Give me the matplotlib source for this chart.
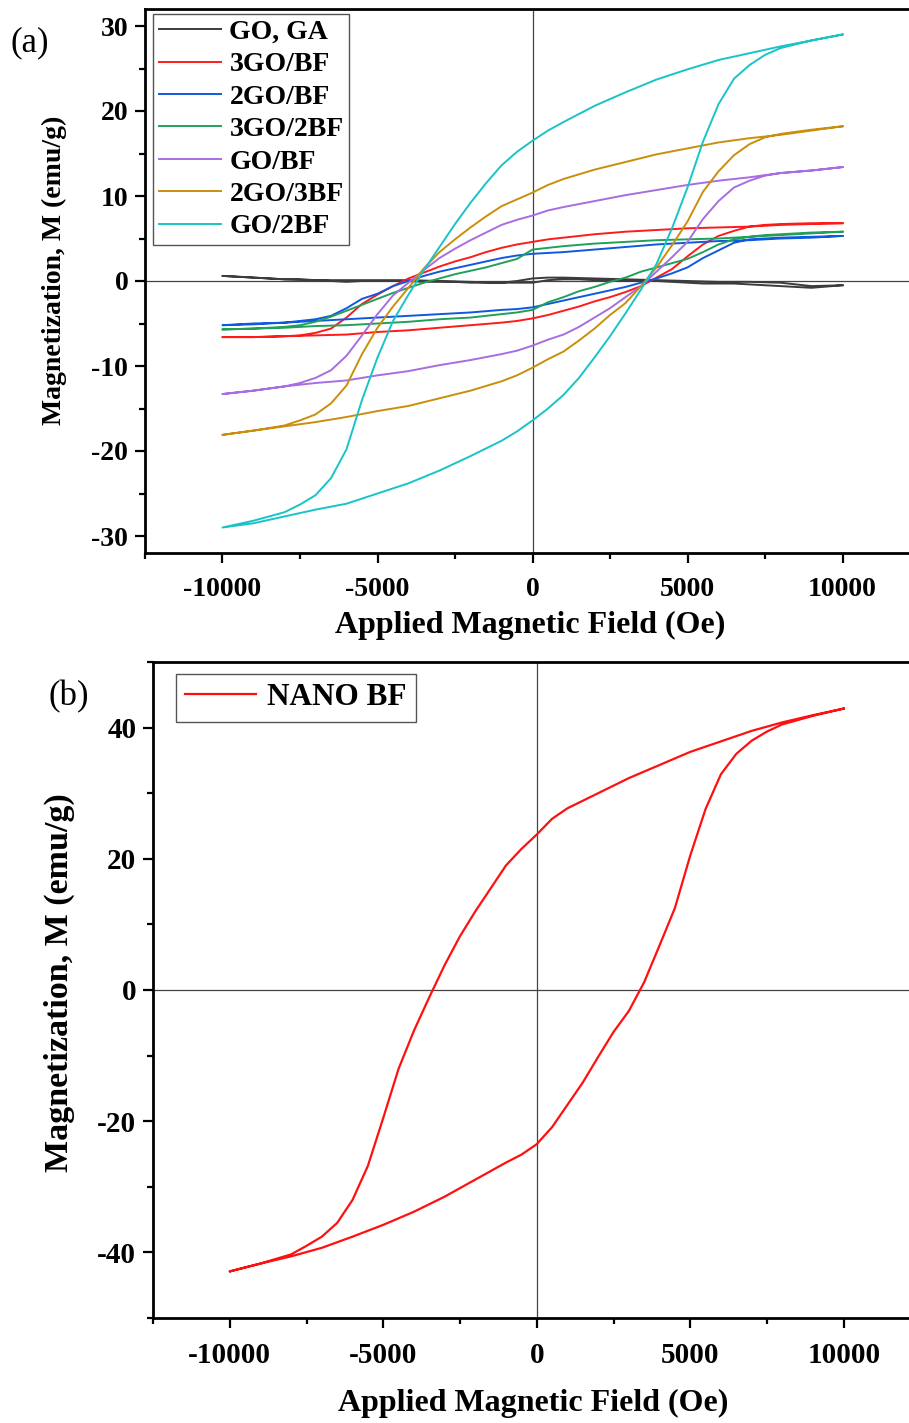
import matplotlib
matplotlib.use('Agg')

import matplotlib.pyplot as plt
from matplotlib.ticker import MultipleLocator

# field sweep for the descending branch (+10 kOe -> -10 kOe), Oe
H_DOWN = [10000, 9000, 8000, 7000, 6000, 5000, 4000, 3000, 2000, 1000, 500, 0,
          -500, -1000, -1500, -2000, -2500, -3000, -3500, -4000, -4500, -5000,
          -5500, -6000, -6500, -7000, -7500, -8000, -9000, -10000]
# field sweep for the ascending branch (-10 kOe -> +10 kOe), Oe
H_UP = [-10000, -9000, -8000, -7000, -6000, -5000, -4000, -3000, -2000, -1000, -500, 0,
        500, 1000, 1500, 2000, 2500, 3000, 3500, 4000, 4500, 5000,
        5500, 6000, 6500, 7000, 7500, 8000, 9000, 10000]

# panel (a) magnetization, emu/g
GOGA_DOWN = [-0.5, -0.6, -0.2, -0.1, -0.1, 0.0, 0.1, 0.2, 0.3, 0.4, 0.4, 0.3,
             0.0, -0.2, -0.2, -0.2, -0.1, -0.1, -0.1, 0.0, 0.0, 0.0,
             0.0, -0.1, 0.0, 0.1, 0.2, 0.2, 0.4, 0.6]
GOGA_UP = [0.6, 0.4, 0.2, 0.1, 0.1, 0.1, 0.1, 0.0, -0.1, -0.2, -0.2, -0.2,
           0.1, 0.2, 0.2, 0.1, 0.1, 0.0, 0.0, 0.0, -0.1, -0.2,
           -0.3, -0.3, -0.3, -0.4, -0.5, -0.6, -0.8, -0.5]

GO3_BF_DOWN = [6.8, 6.7, 6.6, 6.4, 6.3, 6.2, 6.0, 5.8, 5.5, 5.1, 4.9, 4.6,
               4.3, 3.9, 3.4, 2.8, 2.3, 1.7, 1.0, 0.3, -0.6, -1.6,
               -2.7, -4.3, -5.6, -6.1, -6.4, -6.5, -6.6, -6.6]
GO3_BF_UP = [-6.6, -6.6, -6.5, -6.4, -6.3, -6.0, -5.8, -5.5, -5.2, -4.9, -4.7, -4.4,
             -4.0, -3.5, -3.0, -2.4, -1.9, -1.3, -0.6, 0.4, 1.4, 2.9,
             4.3, 5.3, 5.9, 6.4, 6.6, 6.7, 6.8, 6.8]

GO2_BF_DOWN = [5.3, 5.1, 5.0, 4.8, 4.7, 4.5, 4.3, 4.0, 3.7, 3.4, 3.3, 3.2,
               3.0, 2.7, 2.3, 1.9, 1.5, 1.1, 0.6, 0.0, -0.6, -1.5,
               -2.1, -3.2, -4.1, -4.5, -4.7, -4.9, -5.1, -5.2]
GO2_BF_UP = [-5.2, -5.0, -4.9, -4.7, -4.5, -4.3, -4.1, -3.9, -3.7, -3.4, -3.3, -3.1,
             -2.7, -2.3, -1.9, -1.5, -1.1, -0.7, -0.2, 0.3, 0.9, 1.6,
             2.7, 3.6, 4.5, 4.9, 5.0, 5.1, 5.2, 5.3]

GO3_BF2_DOWN = [5.8, 5.6, 5.4, 5.2, 5.0, 4.9, 4.8, 4.6, 4.4, 4.1, 3.9, 3.7,
                2.6, 2.1, 1.6, 1.2, 0.8, 0.3, -0.2, -0.8, -1.4, -2.1,
                -2.8, -3.5, -4.2, -4.8, -5.2, -5.4, -5.6, -5.7]
GO3_BF2_UP = [-5.7, -5.6, -5.5, -5.3, -5.2, -5.0, -4.8, -4.5, -4.3, -3.9, -3.7, -3.4,
              -2.5, -1.9, -1.2, -0.7, -0.1, 0.4, 1.1, 1.6, 2.1, 2.6,
              3.4, 4.3, 4.9, 5.2, 5.4, 5.5, 5.7, 5.8]

GO_BF_DOWN = [13.4, 13.0, 12.7, 12.2, 11.8, 11.3, 10.7, 10.1, 9.4, 8.7, 8.3, 7.7,
              7.2, 6.6, 5.7, 4.8, 3.8, 2.7, 1.3, -0.2, -1.7, -3.9,
              -6.4, -8.8, -10.5, -11.4, -12.0, -12.4, -12.9, -13.3]
GO_BF_UP = [-13.3, -12.9, -12.4, -12.0, -11.7, -11.1, -10.6, -9.9, -9.3, -8.6, -8.2, -7.6,
            -6.9, -6.3, -5.4, -4.3, -3.2, -1.9, -0.6, 1.1, 2.8, 4.6,
            7.3, 9.4, 11.0, 11.8, 12.4, 12.7, 13.0, 13.4]

GO2_BF3_DOWN = [18.2, 17.7, 17.2, 16.8, 16.3, 15.6, 14.9, 14.0, 13.1, 12.0, 11.3, 10.4,
                9.6, 8.8, 7.6, 6.3, 4.9, 3.4, 1.5, -0.8, -3.0, -5.5,
                -8.6, -12.3, -14.4, -15.7, -16.4, -17.0, -17.6, -18.1]
GO2_BF3_UP = [-18.1, -17.6, -17.1, -16.6, -16.0, -15.3, -14.7, -13.8, -12.9, -11.8, -11.1, -10.2,
              -9.2, -8.3, -7.0, -5.6, -4.0, -2.6, -0.6, 1.6, 4.2, 7.0,
              10.5, 12.9, 14.8, 16.1, 16.9, 17.3, 17.8, 18.2]

GO_BF2_DOWN = [29.0, 28.3, 27.6, 26.8, 26.0, 24.9, 23.7, 22.2, 20.6, 18.7, 17.7, 16.5,
               15.2, 13.6, 11.5, 9.2, 6.7, 4.0, 1.3, -1.6, -4.7, -9.0,
               -14.0, -19.8, -23.2, -25.2, -26.3, -27.2, -28.2, -29.0]
GO_BF2_UP = [-29.0, -28.5, -27.7, -26.9, -26.2, -25.0, -23.8, -22.3, -20.6, -18.8, -17.7, -16.4,
             -15.0, -13.4, -11.4, -9.0, -6.5, -3.8, -1.0, 2.0, 6.2, 11.0,
             16.4, 20.8, 23.8, 25.4, 26.6, 27.4, 28.3, 29.0]

LABELS_A = ['GO, GA', '3GO/BF', '2GO/BF', '3GO/2BF', 'GO/BF', '2GO/3BF', 'GO/2BF']
COLORS_A = ['#3c3c3c', '#ff1a1a', '#1058e0', '#22a05a', '#a86de0', '#c98f0c', '#18c4c8']

# panel (b) magnetization, emu/g
NANO_BF_DOWN = [42.9, 41.9, 40.8, 39.5, 37.9, 36.3, 34.3, 32.3, 30.0, 27.7, 26.1, 23.7,
                21.5, 19.0, 15.5, 12.0, 8.2, 3.8, -1.1, -6.2, -12.0, -19.5,
                -26.8, -32.0, -35.5, -37.6, -39.0, -40.3, -41.7, -42.9]
NANO_BF_UP = [-42.9, -41.7, -40.6, -39.3, -37.6, -35.8, -33.8, -31.5, -28.9, -26.3, -25.1, -23.5,
              -20.9, -17.5, -14.1, -10.2, -6.4, -3.2, 1.2, 6.8, 12.5, 20.5,
              27.6, 32.9, 36.0, 38.0, 39.4, 40.5, 41.8, 42.9]

plt.rcParams['font.family'] = ['Liberation Serif', 'DejaVu Serif']
plt.rcParams['axes.unicode_minus'] = False


def style_axes(ax, ymajor, yminor, fs):
    ax.set_xlim(-12500, 12500)
    ax.xaxis.set_major_locator(MultipleLocator(5000))
    ax.xaxis.set_minor_locator(MultipleLocator(2500))
    ax.yaxis.set_major_locator(MultipleLocator(ymajor))
    ax.yaxis.set_minor_locator(MultipleLocator(yminor))
    ax.tick_params(which='both', direction='out', top=False, right=False, width=1.6)
    ax.tick_params(which='major', length=7, labelsize=fs)
    ax.tick_params(which='minor', length=4)
    ax.tick_params(axis='x', pad=10)
    ax.tick_params(axis='y', pad=5)
    for lab in ax.get_xticklabels() + ax.get_yticklabels():
        lab.set_fontweight('bold')
    for sp in ax.spines.values():
        sp.set_linewidth(2.0)
    ax.axhline(0, color='#444444', lw=0.9, zorder=1)
    ax.axvline(0, color='#444444', lw=0.9, zorder=1)


def loop(down, up):
    return H_DOWN + H_UP, down + up


fig = plt.figure(figsize=(9.09, 14.23), dpi=100)

# ---- panel (a)
ax1 = fig.add_axes([145 / 909, 1 - 553 / 1423, 775 / 909, 544 / 1423])
series_a = [(GOGA_DOWN, GOGA_UP), (GO3_BF_DOWN, GO3_BF_UP), (GO2_BF_DOWN, GO2_BF_UP),
            (GO3_BF2_DOWN, GO3_BF2_UP), (GO_BF_DOWN, GO_BF_UP),
            (GO2_BF3_DOWN, GO2_BF3_UP), (GO_BF2_DOWN, GO_BF2_UP)]
for (down, up), lab, col in zip(series_a, LABELS_A, COLORS_A):
    x, y = loop(down, up)
    ax1.plot(x, y, color=col, lw=1.4, label=lab, zorder=2)
ax1.set_ylim(-32, 32)
style_axes(ax1, 10, 5, 20)
ax1.set_xlabel('Applied Magnetic Field (Oe)', fontsize=23, fontweight='bold')
ax1.set_ylabel('Magnetization, M (emu/g)', fontsize=20, fontweight='bold')
ax1.xaxis.set_label_coords(0.497, -0.107)
ax1.yaxis.set_label_coords(-0.100, 0.52)
leg1 = ax1.legend(loc='upper left', bbox_to_anchor=(8 / 775, 1 - 5 / 544),
                  prop={'weight': 'bold', 'size': 20}, frameon=True, fancybox=False,
                  edgecolor='#555555', framealpha=1, borderaxespad=0, borderpad=0.2,
                  handlelength=2.25, handletextpad=0.3, labelspacing=0.25)
leg1.get_frame().set_linewidth(1.0)
fig.text(11 / 909, 1 - 43 / 1423, '(a)', fontsize=25, va='center', ha='left')

# ---- panel (b)
ax2 = fig.add_axes([153 / 909, 1 - 1318 / 1423, 767.5 / 909, 656 / 1423])
x, y = loop(NANO_BF_DOWN, NANO_BF_UP)
ax2.plot(x, y, color='#ff1010', lw=1.6, label='NANO BF', zorder=2)
ax2.set_ylim(-50, 50)
style_axes(ax2, 20, 10, 21)
ax2.set_xlabel('Applied Magnetic Field (Oe)', fontsize=23, fontweight='bold')
ax2.set_ylabel('Magnetization, M (emu/g)', fontsize=24.5, fontweight='bold')
ax2.xaxis.set_label_coords(0.495, -0.108)
ax2.yaxis.set_label_coords(-0.101, 0.512)
leg2 = ax2.legend(loc='upper left', bbox_to_anchor=(23 / 767.5, 1 - 12 / 656),
                  prop={'weight': 'bold', 'size': 22.5}, frameon=True, fancybox=False,
                  edgecolor='#555555', framealpha=1, borderaxespad=0, borderpad=0.3,
                  handlelength=2.25, handletextpad=0.35)
leg2.get_frame().set_linewidth(1.0)
fig.text(48 / 909, 1 - 697 / 1423, '(b)', fontsize=25, va='center', ha='left')

fig.savefig('out.png', dpi=100)
